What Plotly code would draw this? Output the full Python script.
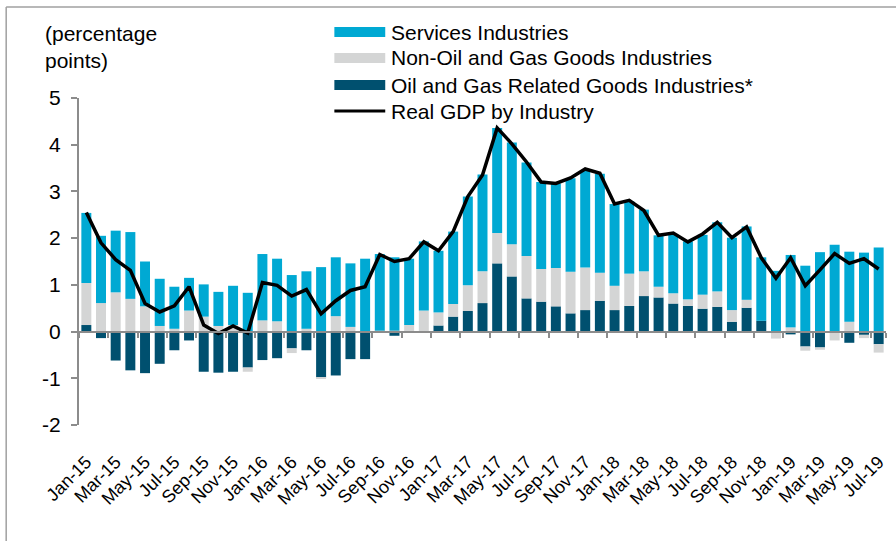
import plotly.graph_objects as go

# Monthly categories
months = [
    "Jan-15", "Feb-15", "Mar-15", "Apr-15", "May-15", "Jun-15", "Jul-15", "Aug-15", "Sep-15", "Oct-15", "Nov-15", "Dec-15",
    "Jan-16", "Feb-16", "Mar-16", "Apr-16", "May-16", "Jun-16", "Jul-16", "Aug-16", "Sep-16", "Oct-16", "Nov-16", "Dec-16",
    "Jan-17", "Feb-17", "Mar-17", "Apr-17", "May-17", "Jun-17", "Jul-17", "Aug-17", "Sep-17", "Oct-17", "Nov-17", "Dec-17",
    "Jan-18", "Feb-18", "Mar-18", "Apr-18", "May-18", "Jun-18", "Jul-18", "Aug-18", "Sep-18", "Oct-18", "Nov-18", "Dec-18",
    "Jan-19", "Feb-19", "Mar-19", "Apr-19", "May-19", "Jun-19", "Jul-19",
]

# Contributions to growth (percentage points)
oil_gas = [
    0.14, -0.14, -0.62, -0.83, -0.89, -0.69, -0.40, -0.19, -0.86, -0.88, -0.86, -0.77,
    -0.61, -0.57, -0.36, -0.40, -0.98, -0.94, -0.59, -0.59, 0.00, -0.09, 0.00, 0.00,
    0.13, 0.32, 0.44, 0.61, 1.46, 1.18, 0.71, 0.64, 0.54, 0.39, 0.46, 0.66,
    0.46, 0.55, 0.76, 0.73, 0.60, 0.55, 0.49, 0.53, 0.21, 0.51, 0.23, 0.00,
    -0.06, -0.32, -0.34, 0.00, -0.24, -0.07, -0.27,
]
non_oil_goods = [
    0.90, 0.61, 0.84, 0.70, 0.54, 0.12, 0.06, 0.45, 0.32, 0.12, 0.14, -0.09,
    0.24, 0.22, -0.10, 0.06, -0.02, 0.33, 0.10, 0.00, 0.02, 0.02, 0.14, 0.45,
    0.28, 0.27, 0.55, 0.68, 0.65, 0.69, 0.91, 0.70, 0.82, 0.89, 0.91, 0.60,
    0.52, 0.69, 0.53, 0.23, 0.22, 0.14, 0.30, 0.33, 0.25, 0.17, 0.00, -0.15,
    0.09, -0.09, -0.05, -0.19, 0.21, -0.07, -0.18,
]
services = [
    1.50, 1.44, 1.32, 1.43, 0.96, 1.01, 0.90, 0.70, 0.69, 0.73, 0.84, 0.83,
    1.42, 1.34, 1.21, 1.23, 1.38, 1.26, 1.36, 1.56, 1.64, 1.57, 1.42, 1.48,
    1.32, 1.55, 1.90, 2.07, 2.25, 2.18, 2.00, 1.86, 1.81, 2.00, 2.07, 2.12,
    1.75, 1.55, 1.32, 1.10, 1.27, 1.24, 1.28, 1.48, 1.55, 1.57, 1.36, 1.30,
    1.55, 1.41, 1.70, 1.86, 1.50, 1.69, 1.80,
]
real_gdp = [
    2.55, 1.90, 1.54, 1.31, 0.60, 0.42, 0.55, 0.96, 0.14, -0.04, 0.12, -0.03,
    1.05, 0.99, 0.76, 0.90, 0.38, 0.66, 0.88, 0.96, 1.65, 1.50, 1.56, 1.92,
    1.73, 2.14, 2.89, 3.35, 4.36, 4.02, 3.63, 3.20, 3.17, 3.29, 3.48, 3.39,
    2.73, 2.81, 2.59, 2.06, 2.11, 1.92, 2.09, 2.34, 2.01, 2.24, 1.58, 1.14,
    1.58, 0.98, 1.32, 1.67, 1.46, 1.56, 1.34,
]

y_ticks = [-2, -1, 0, 1, 2, 3, 4, 5]
y_tick_text = ["-2", "-1", "0", "1", "2", "3", "4", "5"]
x_ticks = months[::2]

C_SERV = "#00A9D3"
C_NONOIL = "#D4D5D5"
C_OIL = "#00506F"
AXIS_GREY = "#8C8C8C"
FONT = "Liberation Sans, Arial, sans-serif"

W, H = 896, 541
M_L, M_R, M_T, M_B = 79, 8, 98, 116
PW, PH = W - M_L - M_R, H - M_T - M_B


def xp(px):
    return (px - M_L) / PW


def yp(py):
    return (H - M_B - py) / PH


fig = go.Figure()
fig.add_trace(go.Bar(x=months, y=oil_gas, name="Oil and Gas Related Goods Industries*",
                     marker=dict(color=C_OIL, line=dict(width=0))))
fig.add_trace(go.Bar(x=months, y=non_oil_goods, name="Non-Oil and Gas Goods Industries",
                     marker=dict(color=C_NONOIL, line=dict(width=0))))
fig.add_trace(go.Bar(x=months, y=services, name="Services Industries",
                     marker=dict(color=C_SERV, line=dict(width=0))))
fig.add_trace(go.Scatter(x=months, y=real_gdp, name="Real GDP by Industry", mode="lines",
                         line=dict(color="black", width=3.5), xaxis="x2"))

zero_pos = (0 - y_ticks[0]) / (y_ticks[-1] - y_ticks[0])

fig.update_layout(
    width=W, height=H,
    margin=dict(l=M_L, r=M_R, t=M_T, b=M_B, pad=0),
    paper_bgcolor="white", plot_bgcolor="white",
    barmode="relative", bargap=0.32,
    showlegend=False,
    font=dict(family=FONT, color="black"),
    xaxis=dict(
        type="category", range=[-0.5, len(months) - 0.5],
        tickmode="array", tickvals=x_ticks, ticktext=x_ticks,
        tickangle=-45, tickfont=dict(size=18, family=FONT, color="black"),
        ticklabelstandoff=22,
        showline=False, ticks="", showgrid=False, zeroline=False,
    ),
    xaxis2=dict(
        type="category", matches="x", overlaying="x", anchor="free", position=zero_pos,
        showline=True, linecolor=AXIS_GREY, linewidth=2,
        tickmode="array", tickvals=x_ticks, tickson="boundaries",
        ticks="outside", ticklen=5, tickwidth=2, tickcolor=AXIS_GREY,
        showticklabels=False, showgrid=False, zeroline=False,
    ),
    yaxis=dict(
        range=[y_ticks[0], y_ticks[-1]], tickmode="array", tickvals=y_ticks, ticktext=y_tick_text,
        showline=True, linecolor=AXIS_GREY, linewidth=2,
        ticks="outside", ticklen=6, tickwidth=2, tickcolor=AXIS_GREY,
        tickfont=dict(size=21, family=FONT, color="black"),
        showgrid=False, zeroline=False, ticklabelstandoff=6,
    ),
)

# Frame lines of the chart box
frame = "#A0A0A0"
fig.add_shape(type="line", xref="paper", yref="paper", x0=xp(6), x1=xp(6), y0=yp(7), y1=yp(560),
              line=dict(color=frame, width=1.5))
fig.add_shape(type="line", xref="paper", yref="paper", x0=xp(6), x1=xp(910), y0=yp(7), y1=yp(7),
              line=dict(color=frame, width=1.5))

# Axis caption
fig.add_annotation(text="(percentage<br>points)", xref="paper", yref="paper",
                   x=xp(43), y=yp(47), xanchor="left", yanchor="middle", align="left",
                   showarrow=False, font=dict(size=21, family=FONT, color="black"))

# Legend
legend_rows = [
    ("Services Industries", C_SERV, "bar", 32),
    ("Non-Oil and Gas Goods Industries", C_NONOIL, "bar", 58),
    ("Oil and Gas Related Goods Industries*", C_OIL, "bar", 85),
    ("Real GDP by Industry", "black", "line", 111),
]
for label, color, kind, cy in legend_rows:
    if kind == "bar":
        fig.add_shape(type="rect", xref="paper", yref="paper",
                      x0=xp(335), x1=xp(386), y0=yp(cy - 5), y1=yp(cy + 5),
                      fillcolor=color, line=dict(width=0))
    else:
        fig.add_shape(type="line", xref="paper", yref="paper",
                      x0=xp(335), x1=xp(386), y0=yp(cy), y1=yp(cy),
                      line=dict(color=color, width=3))
    fig.add_annotation(text=label, xref="paper", yref="paper", x=xp(390), y=yp(cy),
                       xanchor="left", yanchor="middle", showarrow=False,
                       font=dict(size=21, family=FONT, color="black"))

fig.write_html("out.html")
